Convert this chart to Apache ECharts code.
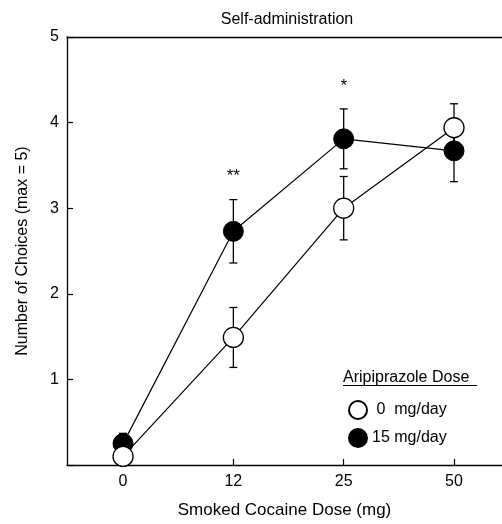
<!DOCTYPE html>
<html lang="en">
<head>
<meta charset="UTF-8">
<title>Self-administration</title>
<script src="https://cdn.jsdelivr.net/npm/echarts@6/dist/echarts.min.js"></script>
<style>
  html, body { margin: 0; padding: 0; background: #fff; }
</style>
</head>
<body>
<div id="main" style="width: 502px;height: 524px"></div>
<script type="text/javascript">
  // doses on the x axis (mg), drawn at evenly spaced positions
  var doses = ['0', '12', '25', '50'];
  var yTicks = [1, 2, 3, 4, 5];
  // aripiprazole 0 mg/day (open circles)
  var placeboMean = [0.1, 1.49, 3.0, 3.94];
  var placeboSem = [0, 0.35, 0.37, 0.28];
  // aripiprazole 15 mg/day (filled circles)
  var ariMean = [0.25, 2.73, 3.81, 3.67];
  var ariSem = [0.12, 0.37, 0.35, 0.36];
  // significance marks over each dose
  var sigMarks = ['', '**', '*', ''];

  var font = 'Liberation Sans, Arial, Helvetica, sans-serif';
  var myChart = echarts.init(document.getElementById('main'));
  var xPos = doses.map(function (d, i) { return i; });

  function pairs(mean) {
    return mean.map(function (v, i) { return [i, v]; });
  }

  function errData(mean, sem) {
    var out = [];
    for (var i = 0; i < mean.length; i++) {
      if (sem[i] > 0) out.push([i, mean[i], sem[i]]);
    }
    return out;
  }

  function renderErr(params, api) {
    var x = api.value(0), m = api.value(1), s = api.value(2);
    var hi = api.coord([x, m + s]);
    var lo = api.coord([x, m - s]);
    var cap = 4;
    var st = { stroke: '#000', lineWidth: 1.3 };
    return {
      type: 'group',
      children: [
        { type: 'line', shape: { x1: hi[0], y1: hi[1], x2: lo[0], y2: lo[1] }, style: st },
        { type: 'line', shape: { x1: hi[0] - cap, y1: hi[1], x2: hi[0] + cap, y2: hi[1] }, style: st },
        { type: 'line', shape: { x1: lo[0] - cap, y1: lo[1], x2: lo[0] + cap, y2: lo[1] }, style: st }
      ]
    };
  }

  var sigData = [];
  for (var i = 0; i < sigMarks.length; i++) {
    if (sigMarks[i]) sigData.push([i, Math.max(ariMean[i] + ariSem[i], placeboMean[i] + placeboSem[i]), sigMarks[i]]);
  }

  var option = {
    animation: false,
    textStyle: { fontFamily: font },
    title: {
      text: 'Self-administration',
      left: 282,
      textAlign: 'center',
      top: 7,
      textStyle: { fontFamily: font, fontSize: 16, fontWeight: 'normal', color: '#000' }
    },
    grid: { left: 67, top: 37, bottom: 55, width: 435 },
    legend: {
      orient: 'vertical',
      left: 343,
      top: 395,
      itemWidth: 18,
      itemHeight: 18,
      itemGap: 8,
      icon: 'circle',
      data: ['0 mg/day', '15 mg/day'],
      formatter: function (name) {
        return name === '0 mg/day' ? ' 0  mg/day' : '15 mg/day';
      },
      textStyle: { fontFamily: font, fontSize: 16, color: '#000' }
    },
    graphic: [
      {
        type: 'text',
        left: 343,
        top: 370,
        style: { text: 'Aripiprazole Dose', font: '16px ' + font, fill: '#000' }
      },
      {
        type: 'rect',
        left: 343,
        top: 385,
        shape: { width: 134, height: 1 },
        style: { fill: '#000' }
      }
    ],
    xAxis: [
      {
        type: 'value',
        min: -0.508,
        max: 3.435,
        name: 'Smoked Cocaine Dose (mg)',
        nameLocation: 'middle',
        nameGap: 37,
        nameTextStyle: { fontFamily: font, fontSize: 17, color: '#000' },
        axisLine: { onZero: false, lineStyle: { color: '#000', width: 1.3 } },
        axisTick: { show: true, inside: true, length: 6, customValues: xPos, lineStyle: { color: '#000', width: 1.2 } },
        axisLabel: {
          fontFamily: font, fontSize: 16, color: '#000', margin: 9,
          customValues: xPos,
          formatter: function (v) { return doses[Math.round(v)]; }
        },
        splitLine: { show: false }
      },
      {
        type: 'value',
        position: 'top',
        min: -0.508,
        max: 3.435,
        axisLine: { show: true, onZero: false, lineStyle: { color: '#000', width: 1.3 } },
        axisTick: { show: false },
        axisLabel: { show: false },
        splitLine: { show: false }
      }
    ],
    yAxis: {
      type: 'value',
      min: 0,
      max: 5,
      interval: 1,
      name: 'Number of Choices (max = 5)',
      nameLocation: 'middle',
      nameGap: 36,
      nameTextStyle: { fontFamily: font, fontSize: 16, color: '#000' },
      axisLine: { show: true, onZero: false, lineStyle: { color: '#000', width: 1.3 } },
      axisTick: { show: true, inside: true, length: 6, lineStyle: { color: '#000', width: 1.2 } },
      axisLabel: {
        fontFamily: font, fontSize: 16, color: '#000', margin: 8,
        formatter: function (v) { return yTicks.indexOf(v) >= 0 ? String(v) : ''; }
      },
      splitLine: { show: false }
    },
    series: [
      {
        type: 'custom',
        renderItem: renderErr,
        data: errData(ariMean, ariSem),
        z: 1,
        silent: true
      },
      {
        type: 'custom',
        renderItem: renderErr,
        data: errData(placeboMean, placeboSem),
        z: 1,
        silent: true
      },
      {
        name: '15 mg/day',
        type: 'line',
        data: pairs(ariMean),
        symbol: 'circle',
        symbolSize: 20,
        z: 3,
        lineStyle: { color: '#000', width: 1.2 },
        itemStyle: { color: '#000', borderColor: '#000', borderWidth: 1 }
      },
      {
        name: '0 mg/day',
        type: 'line',
        data: pairs(placeboMean),
        symbol: 'circle',
        symbolSize: 20,
        z: 4,
        lineStyle: { color: '#000', width: 1.2 },
        itemStyle: { color: '#fff', borderColor: '#000', borderWidth: 1.3 }
      },
      {
        type: 'custom',
        data: sigData,
        z: 5,
        silent: true,
        renderItem: function (params, api) {
          var p = api.coord([api.value(0), api.value(1)]);
          return {
            type: 'text',
            x: p[0],
            y: p[1] - 23,
            style: {
              text: sigData[params.dataIndex][2],
              font: '17px ' + font,
              fill: '#000',
              align: 'center',
              verticalAlign: 'middle'
            }
          };
        }
      }
    ]
  };
  myChart.setOption(option);
</script>
</body>
</html>
